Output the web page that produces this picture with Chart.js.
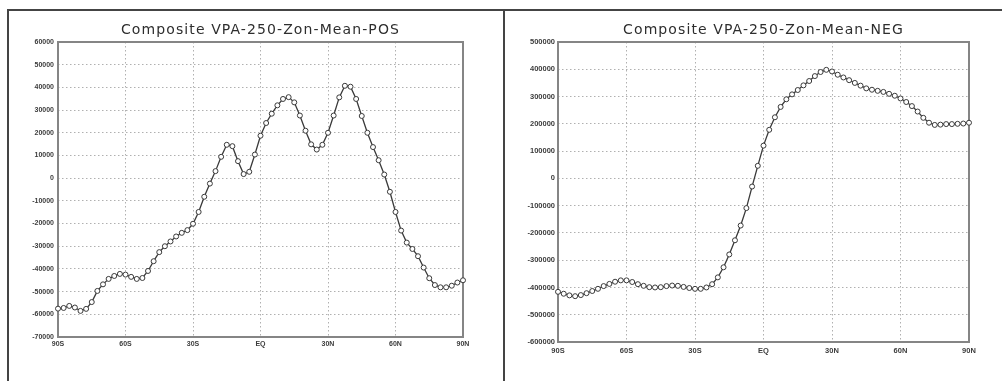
<!DOCTYPE html>
<html>
<head>
<meta charset="utf-8">
<script src="https://cdn.jsdelivr.net/npm/chart.js@4.4.1/dist/chart.umd.min.js"></script>
<style>
  html, body { margin: 0; padding: 0; background: #ffffff; }
  body { width: 1002px; height: 381px; position: relative; overflow: hidden; }
  .frame { position: absolute; box-sizing: border-box; }
  #frameL { left: 7px; top: 9px; width: 498px; height: 380px; border-left: 2px solid #444; border-top: 2px solid #444; border-right: 2px solid #444; }
  #frameR { left: 503px; top: 9px; width: 499px; height: 380px; border-top: 2px solid #444; }
  canvas { position: absolute; top: 0; }
  #cL { left: 8px; }
  #cR { left: 505px; }
</style>
</head>
<body>
<div class="frame" id="frameL"></div>
<div class="frame" id="frameR"></div>
<canvas id="cL" width="495" height="381"></canvas>
<canvas id="cR" width="497" height="381"></canvas>
<script>
// ---- data ----
const latitudes = [-90, -87.5, -85, -82.5, -80, -77.5, -75, -72.5, -70, -67.5, -65, -62.5,
  -60, -57.5, -55, -52.5, -50, -47.5, -45, -42.5, -40, -37.5, -35, -32.5,
  -30, -27.5, -25, -22.5, -20, -17.5, -15, -12.5, -10, -7.5, -5, -2.5,
  0, 2.5, 5, 7.5, 10, 12.5, 15, 17.5, 20, 22.5, 25, 27.5,
  30, 32.5, 35, 37.5, 40, 42.5, 45, 47.5, 50, 52.5, 55, 57.5,
  60, 62.5, 65, 67.5, 70, 72.5, 75, 77.5, 80, 82.5, 85, 87.5, 90];

const xTickValues = [-90, -60, -30, 0, 30, 60, 90];
const xTickLabels = ['90S', '60S', '30S', 'EQ', '30N', '60N', '90N'];

const posTitle = 'Composite VPA-250-Zon-Mean-POS';
const negTitle = 'Composite VPA-250-Zon-Mean-NEG';

const posValues = [-57500, -57200, -56300, -57000, -58500, -57600, -54600, -49700, -46800, -44400, -43100, -42200,
  -42500, -43500, -44400, -44000, -40900, -36600, -32600, -30000, -27900, -25700, -24100, -22900,
  -20100, -14900, -8200, -2400, 3100, 9400, 14700, 14100, 7500, 1800, 2800, 10400,
  18700, 24300, 28400, 32100, 34900, 35700, 33400, 27600, 20900, 14900, 12600, 14700,
  20000, 27600, 35600, 40700, 40300, 34900, 27400, 20000, 13700, 7900, 1600, -6000,
  -14900, -23100, -28400, -31200, -34400, -39400, -44100, -47100, -48100, -48100, -47400, -46000, -45000];

const negValues = [-416000, -423000, -429000, -432000, -428000, -421000, -413000, -405000, -395000, -387000, -379000, -374000,
  -374000, -380000, -388000, -394000, -399000, -400000, -399000, -395000, -393000, -394000, -398000, -402000,
  -405000, -405000, -400000, -388000, -363000, -326000, -279000, -227000, -173000, -109000, -30000, 46000,
  120000, 178000, 224000, 262000, 290000, 308000, 324000, 341000, 357000, 375000, 390000, 398000,
  392000, 380000, 370000, 360000, 350000, 340000, 330000, 325000, 321000, 317000, 310000, 303000,
  293000, 280000, 265000, 245000, 222000, 204000, 196000, 197000, 199000, 199000, 200000, 201000, 204000];

const posYAxis = { min: -70000, max: 60000, step: 10000 };
const negYAxis = { min: -600000, max: 500000, step: 100000 };

// ---- plugins ----
const spacingPlugin = {
  id: 'titleSpacing',
  beforeDraw(chart) { chart.ctx.letterSpacing = '1.1px'; },
  beforeDatasetsDraw(chart) { chart.ctx.letterSpacing = '0px'; }
};
const framePlugin = {
  id: 'plotFrame',
  beforeDatasetsDraw(chart) {
    const a = chart.chartArea, ctx = chart.ctx;
    ctx.save();
    ctx.lineWidth = 2;
    ctx.strokeStyle = '#858585';
    ctx.strokeRect(a.left, a.top, a.right - a.left, a.bottom - a.top);
    ctx.restore();
  }
};

function makeChart(id, title, values, yAxis, cfg) {
  const pts = latitudes.map((lat, i) => ({ x: lat, y: values[i] }));
  return new Chart(document.getElementById(id), {
    type: 'line',
    data: {
      datasets: [{
        data: pts,
        borderColor: '#3a3a3a',
        borderWidth: 1.3,
        pointRadius: 2.5,
        pointBorderWidth: 1,
        pointBackgroundColor: '#ffffff',
        pointBorderColor: '#3a3a3a',
        tension: 0,
        clip: false
      }]
    },
    options: {
      responsive: false,
      maintainAspectRatio: false,
      animation: false,
      devicePixelRatio: 1,
      layout: { padding: { left: 0, right: cfg.padRight, top: 0, bottom: cfg.padBottom } },
      plugins: {
        legend: { display: false },
        tooltip: { enabled: false },
        title: {
          display: true,
          text: title,
          fullSize: false,
          color: '#2e2e2e',
          font: { family: 'DejaVu Sans', size: 14, weight: 'normal', lineHeight: 1.2 },
          padding: { top: 21.6, bottom: 3.6 }
        }
      },
      scales: {
        x: {
          type: 'linear',
          min: -90, max: 90,
          afterFit(s) { s.height = 20; },
          grid: { color: '#b0b0b0', lineWidth: 1, drawTicks: false },
          border: { display: false, dash: [1.5, 2.5] },
          ticks: {
            z: 1,
            stepSize: 30,
            autoSkip: false,
            maxRotation: 0,
            padding: cfg.xPad,
            color: '#3c3c3c',
            font: { family: 'Liberation Sans', size: cfg.tickSize, weight: 'bold' },
            callback(v) { const k = xTickValues.indexOf(v); return k >= 0 ? xTickLabels[k] : ''; }
          }
        },
        y: {
          type: 'linear',
          min: yAxis.min, max: yAxis.max,
          afterFit(s) { s.width = cfg.yWidth; },
          grid: { color: '#b0b0b0', lineWidth: 1, drawTicks: false },
          border: { display: false, dash: [1.5, 2.5] },
          ticks: {
            z: 1,
            stepSize: yAxis.step,
            autoSkip: false,
            padding: cfg.yPad,
            color: '#3c3c3c',
            font: { family: 'Liberation Sans', size: cfg.tickSize, weight: 'bold' },
            callback(v) { return String(v); }
          }
        }
      }
    },
    plugins: [spacingPlugin, framePlugin]
  });
}

makeChart('cL', posTitle, posValues, posYAxis, { padRight: 40, padBottom: 24, yWidth: 50, yPad: 4, xPad: 3, tickSize: 7 });
makeChart('cR', negTitle, negValues, negYAxis, { padRight: 33, padBottom: 19, yWidth: 53, yPad: 3, xPad: 4, tickSize: 7.5 });
</script>
</body>
</html>
